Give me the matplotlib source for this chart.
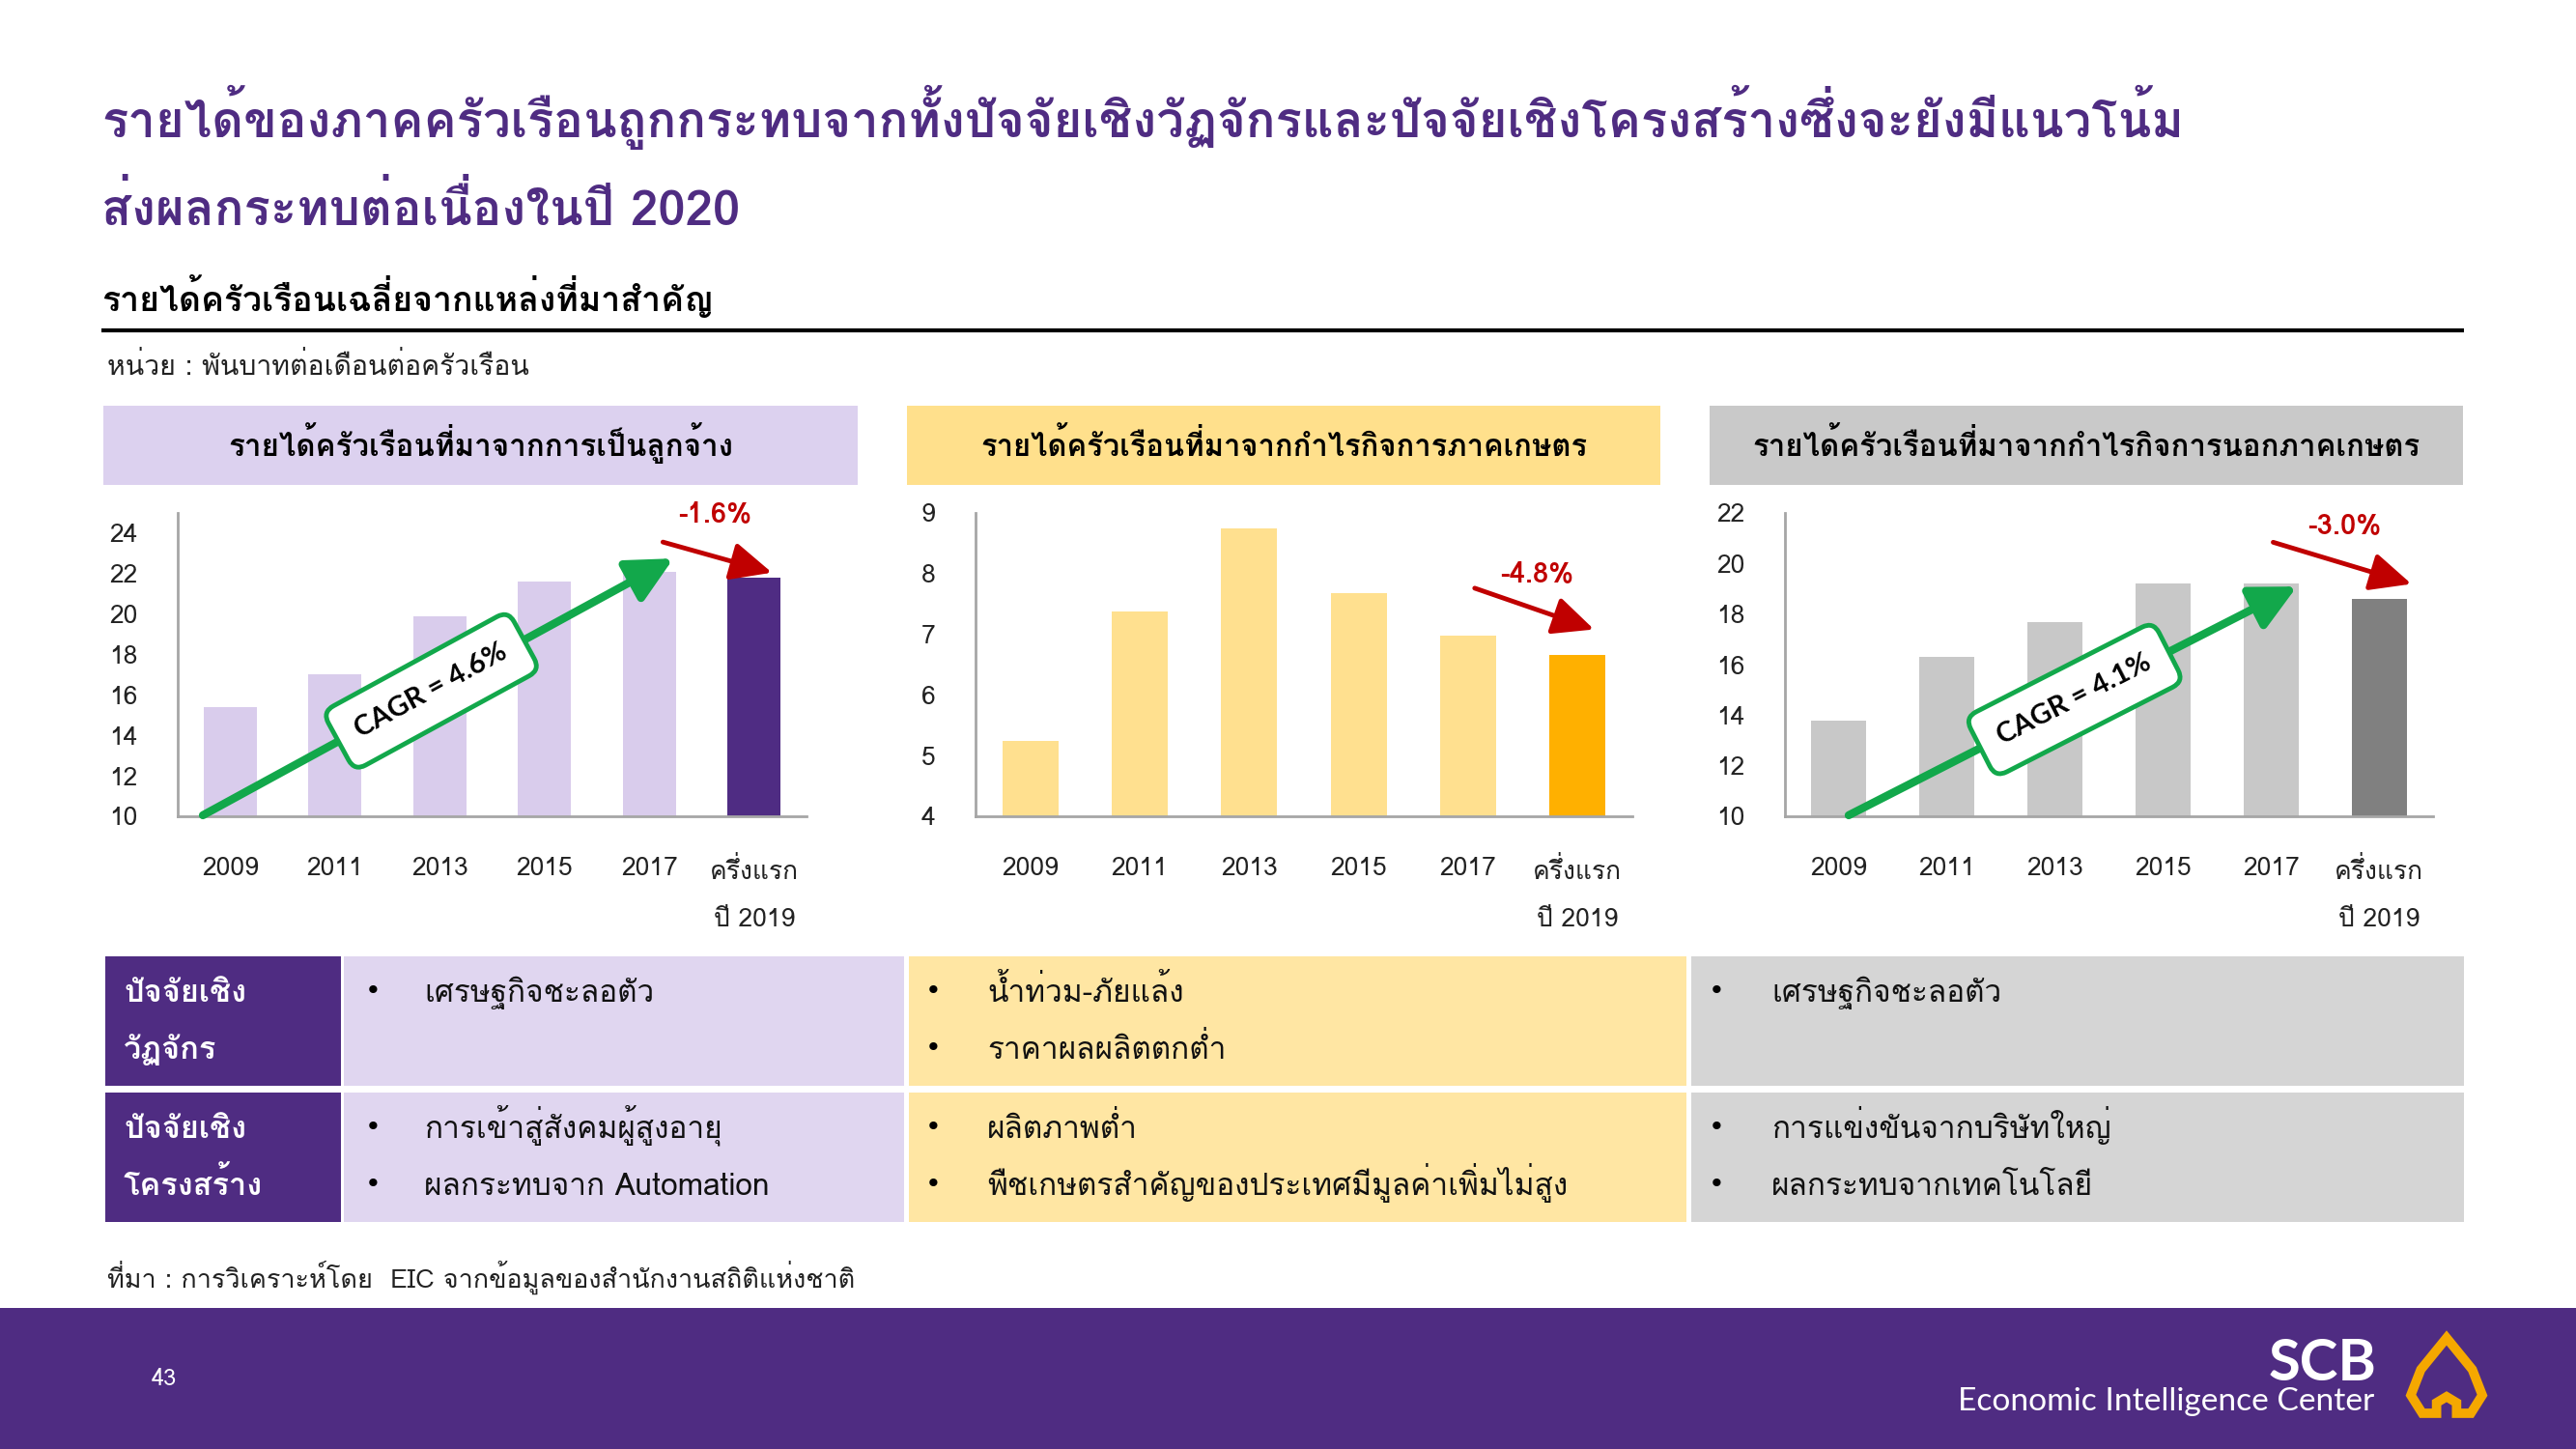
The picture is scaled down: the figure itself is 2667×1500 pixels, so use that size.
import math
import numpy as np
import matplotlib
matplotlib.use('Agg')
import matplotlib.pyplot as plt
from matplotlib import font_manager as fm
from matplotlib.patches import Rectangle, Polygon

# ---------------- data ----------------
years = ['2009', '2011', '2013', '2015', '2017', 'ครึ่งแรก\nปี 2019']
wage_income = [15.4, 17.0, 19.9, 21.6, 22.1, 21.8]
farm_income = [5.25, 7.37, 8.75, 7.68, 6.98, 6.66]
nonfarm_income = [13.8, 16.3, 17.7, 19.2, 19.2, 18.6]

panel_titles = ['รายได้ครัวเรือนที่มาจากการเป็นลูกจ้าง',
                'รายได้ครัวเรือนที่มาจากกำไรกิจการภาคเกษตร',
                'รายได้ครัวเรือนที่มาจากกำไรกิจการนอกภาคเกษตร']
cagr_labels = ['CAGR = 4.6%', None, 'CAGR = 4.1%']
change_labels = ['-1.6%', '-4.8%', '-3.0%']

title_lines = ['รายได้ของภาคครัวเรือนถูกกระทบจากทั้งปัจจัยเชิงวัฏจักรและปัจจัยเชิงโครงสร้างซึ่งจะยังมีแนวโน้ม',
               'ส่งผลกระทบต่อเนื่องในปี 2020']
subtitle = 'รายได้ครัวเรือนเฉลี่ยจากแหล่งที่มาสำคัญ'
unit_text = 'หน่วย : พันบาทต่อเดือนต่อครัวเรือน'
source_text = 'ที่มา : การวิเคราะห์โดย  EIC จากข้อมูลของสำนักงานสถิติแห่งชาติ'

row_labels = [['ปัจจัยเชิง', 'วัฏจักร'], ['ปัจจัยเชิง', 'โครงสร้าง']]
cyclical = [['เศรษฐกิจชะลอตัว'],
            ['น้ำท่วม-ภัยแล้ง', 'ราคาผลผลิตตกต่ำ'],
            ['เศรษฐกิจชะลอตัว']]
structural = [['การเข้าสู่สังคมผู้สูงอายุ', 'ผลกระทบจาก Automation'],
              ['ผลิตภาพต่ำ', 'พืชเกษตรสำคัญของประเทศมีมูลค่าเพิ่มไม่สูง'],
              ['การแข่งขันจากบริษัทใหญ่', 'ผลกระทบจากเทคโนโลยี']]

# ---------------- fonts ----------------
names = {f.name for f in fm.fontManager.ttflist}


def pick(cands):
    for c in cands:
        if c in names:
            return c
    return 'DejaVu Sans'


# Loma stacks Thai tone marks above upper vowels without shaping support
HEAD = [pick(['Loma', 'Kanit', 'Sarabun']), 'DejaVu Sans']
BODY = [pick(['Loma', 'Sarabun', 'Thasadith']), 'DejaVu Sans']
LAT = [pick(['Lato', 'Open Sans']), 'DejaVu Sans']
plt.rcParams['font.family'] = BODY

PURPLE = '#4F2C82'
GREEN = '#12A84B'
RED = '#C00000'

W, H = 2667, 1500
fig = plt.figure(figsize=(W / 100, H / 100), dpi=100)
fig.patch.set_facecolor('white')
bg = fig.add_axes([0, 0, 1, 1], zorder=0)
bg.set_xlim(0, W)
bg.set_ylim(H, 0)
bg.axis('off')
renderer = fig.canvas.get_renderer()


def fit(t, target_w):
    bb = t.get_window_extent(renderer)
    if bb.width > 0:
        t.set_fontsize(t.get_fontsize() * target_w / bb.width)
    return t.get_fontsize()


# ---------------- header texts ----------------
t1 = bg.text(105, 142, title_lines[0], color=PURPLE, fontsize=40, fontweight='bold',
             family=HEAD, va='baseline')
fs = fit(t1, 2157)
bg.text(105, 233, title_lines[1], color=PURPLE, fontsize=fs, fontweight='bold', family=HEAD,
        va='baseline')
st = bg.text(105, 322, subtitle, color='black', fontsize=24, fontweight='bold', va='baseline')
fit(st, 633)
bg.plot([105, 2551], [342, 342], color='black', lw=3, solid_capstyle='butt')
ut = bg.text(111, 388, unit_text, color='#222222', fontsize=16, va='baseline')
fit(ut, 437)

# ---------------- panels ----------------
header_cols = ['#DCD1EF', '#FFE08C', '#C9C9C9']
light_cols = ['#D9CCEC', '#FFE08F', '#C8C8C8']
dark_cols = ['#4F2C83', '#FFB000', '#808080']
header_px = [(107, 888, 523), (939, 1719, 628), (1770, 2550, 691)]
axes_px = [(184, 835), (1010, 1690), (1848, 2519)]
values = [wage_income, farm_income, nonfarm_income]
ylims = [(10, 25), (4, 9), (10, 22)]
yticks = [np.arange(10, 25, 2), np.arange(4, 10, 1), np.arange(10, 23, 2)]
green_arrows = [((-0.26, 10.05), (4.23, 22.75)), None, ((0.09, 10.04), (4.24, 19.09))]
cagr_pos = [(1.92, 16.2), None, (2.18, 14.62)]
red_arrows = [((4.13, 23.56), (5.17, 22.05)), ((4.06, 7.76), (5.15, 7.08)), ((4.02, 20.84), (5.30, 19.19))]
change_pos = [(4.63, 24.97), (4.63, 8.0), (4.68, 21.5)]

AX_TOP, AX_BOT = 531, 845
for i in range(3):
    x0, x1, tw = header_px[i]
    bg.add_patch(Rectangle((x0, 420), x1 - x0, 82, fc=header_cols[i], ec='none'))
    ht = bg.text((x0 + x1) / 2, 472, panel_titles[i], ha='center', va='baseline',
                 fontsize=20, fontweight='bold', color='black')
    fit(ht, tw)

    l, r = axes_px[i]
    ax = fig.add_axes([l / W, 1 - AX_BOT / H, (r - l) / W, (AX_BOT - AX_TOP) / H], zorder=2)
    ax.patch.set_alpha(0)
    xs = np.arange(len(years))
    cols = [light_cols[i]] * (len(years) - 1) + [dark_cols[i]]
    ax.bar(xs, values[i], bottom=0, width=0.51, color=cols, zorder=1)
    ax.set_xlim(-0.5, len(years) - 0.5)
    ax.set_ylim(*ylims[i])
    ax.set_yticks(yticks[i])
    ax.set_yticklabels([str(v) for v in yticks[i]])
    ax.set_xticks(xs)
    ax.set_xticklabels(years)
    for s in ['top', 'right']:
        ax.spines[s].set_visible(False)
    for s in ['left', 'bottom']:
        ax.spines[s].set_color('#A6A6A6')
        ax.spines[s].set_linewidth(2)
    ax.tick_params(axis='y', length=0, pad=30, labelsize=19, labelcolor='#222222')
    ax.tick_params(axis='x', length=0, pad=30, labelsize=19, labelcolor='#222222')
    for lbl in ax.get_xticklabels():
        lbl.set_linespacing(2.35)
        lbl.set_va('top')

    if green_arrows[i] is not None:
        (sx, sy), (ex, ey) = green_arrows[i]
        ax.annotate('', xy=(ex, ey), xytext=(sx, sy),
                    arrowprops=dict(arrowstyle='-|>,head_length=1.3,head_width=0.65', color=GREEN,
                                    lw=6, shrinkA=0, shrinkB=0, mutation_scale=22),
                    annotation_clip=False, zorder=3)
        p0 = ax.transData.transform((sx, sy))
        p1 = ax.transData.transform((ex, ey))
        ang = math.degrees(math.atan2(p1[1] - p0[1], p1[0] - p0[0]))
        ax.text(cagr_pos[i][0], cagr_pos[i][1], cagr_labels[i], rotation=ang, rotation_mode='anchor',
                ha='center', va='center', fontsize=21, fontweight='bold', family=LAT, color='black',
                bbox=dict(boxstyle='round,pad=0.75,rounding_size=0.45', fc='white', ec=GREEN, lw=3.5),
                zorder=4, clip_on=False)
    (sx, sy), (ex, ey) = red_arrows[i]
    ax.annotate('', xy=(ex, ey), xytext=(sx, sy),
                arrowprops=dict(arrowstyle='-|>,head_length=1.3,head_width=0.6', color=RED,
                                lw=3.5, shrinkA=0, shrinkB=0, mutation_scale=20),
                annotation_clip=False, zorder=3)
    ax.text(change_pos[i][0], change_pos[i][1], change_labels[i], ha='center', va='center',
            fontsize=21, fontweight='bold', color=RED, clip_on=False)

# ---------------- table ----------------
row_y = [(990, 1124), (1131, 1265)]
col_x = [(109, 353), (356, 936), (941, 1746), (1751, 2551)]
cell_cols = ['#E0D6F0', '#FFE6A3', '#D5D5D5']
line_y = [(1026, 1085), (1167, 1226)]
bullet_x = [386, 966, 1777]
text_x = [439, 1022, 1834]
rows = [cyclical, structural]

sample = bg.text(0, 0, structural[1][1], fontsize=20)
body_fs = fit(sample, 601)
sample.remove()
lab_sample = bg.text(0, 0, row_labels[0][0], fontsize=20, fontweight='bold', family=HEAD)
lab_fs = fit(lab_sample, 127)
lab_sample.remove()

for r in range(2):
    y0, y1 = row_y[r]
    bg.add_patch(Rectangle((col_x[0][0], y0), col_x[0][1] - col_x[0][0], y1 - y0, fc=PURPLE, ec='none'))
    for k, txt in enumerate(row_labels[r]):
        bg.text(128, line_y[r][k] + 11, txt, color='white', fontsize=lab_fs, fontweight='bold',
                family=HEAD, va='baseline')
    for c in range(3):
        xa, xb = col_x[c + 1]
        bg.add_patch(Rectangle((xa, y0), xb - xa, y1 - y0, fc=cell_cols[c], ec='none'))
        for k, txt in enumerate(rows[r][c]):
            yy = line_y[r][k]
            bg.text(bullet_x[c], yy, '•', fontsize=body_fs * 0.9, va='center', ha='center',
                    family=['DejaVu Sans'], color='black')
            bg.text(text_x[c], yy + 11, txt, fontsize=body_fs, va='baseline', color='#111111')

src = bg.text(111, 1333, source_text, fontsize=14, va='baseline', color='#222222')
fit(src, 773)

# ---------------- footer ----------------
bg.add_patch(Rectangle((0, 1354), W, H - 1354, fc=PURPLE, ec='none'))
bg.text(170, 1428, '43', color='white', fontsize=17, ha='center', va='center')
scb = bg.text(2461, 1429, 'SCB', color='white', fontsize=44, fontweight='bold', family=LAT,
              ha='right', va='baseline')
fit(scb, 112)
eic = bg.text(2458, 1460, 'Economic Intelligence Center', color='white', fontsize=22, family=LAT,
              ha='right', va='baseline')
fit(eic, 429)
lx, ly, lw_, lh = 2496, 1385, 74, 78
shape = [(0.5, 0.0), (0.86, 0.42), (1.0, 0.76), (0.84, 1.0), (0.64, 1.0), (0.64, 0.86),
         (0.5, 0.78), (0.36, 0.86), (0.36, 1.0), (0.16, 1.0), (0.0, 0.76), (0.14, 0.42)]
bg.add_patch(Polygon([(lx + u * lw_, ly + v * lh) for u, v in shape], closed=True,
                     fc='none', ec='#F5A800', lw=7, joinstyle='miter'))

fig.savefig('out.png', dpi=100, facecolor='white')
